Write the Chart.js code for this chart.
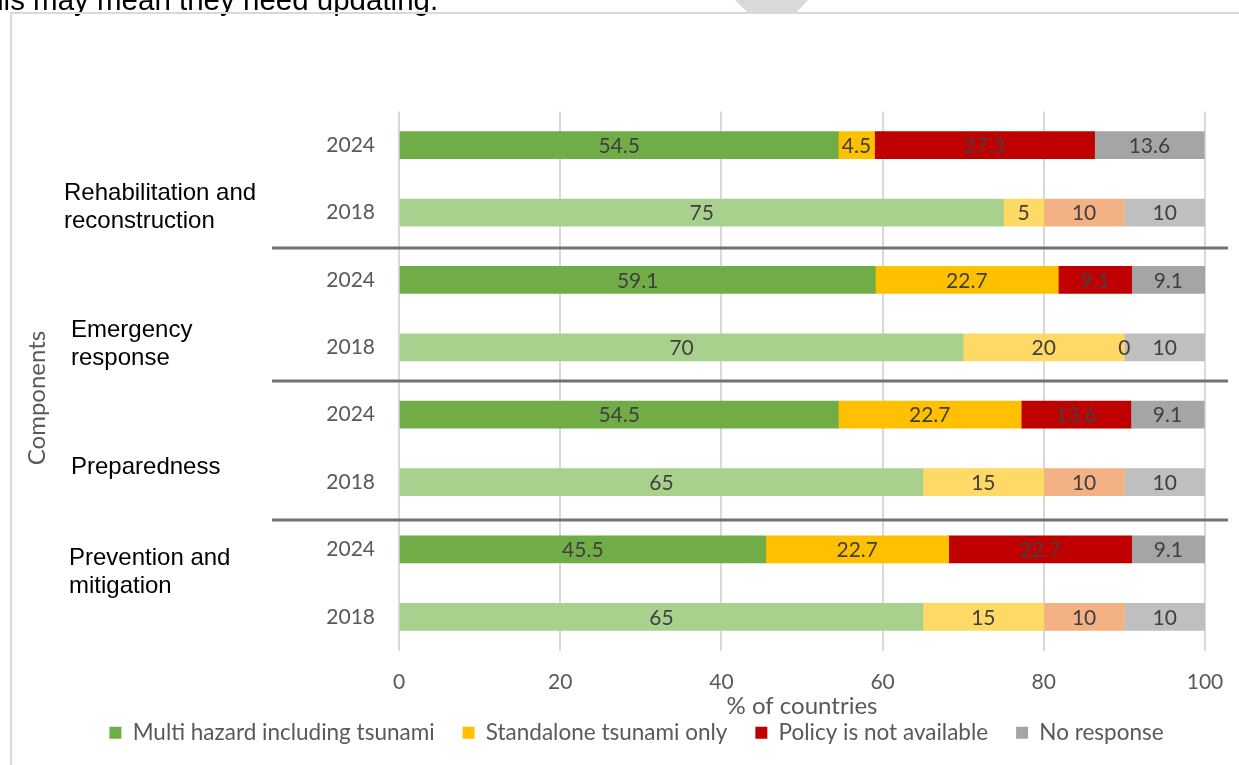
<!DOCTYPE html>
<html>
<head>
<meta charset="utf-8">
<script src="https://cdn.jsdelivr.net/npm/chart.js@4.4.1/dist/chart.umd.min.js"></script>
<style>
  html, body { margin: 0; padding: 0; background: #fff; overflow: hidden; }
  #wrap { width: 1239px; height: 765px; position: relative; }
</style>
</head>
<body>
<div id="wrap"><canvas id="policyChart" width="1239" height="765"></canvas></div>
<script>
// rows run top to bottom, two survey years per component
const years = ['2024', '2018', '2024', '2018', '2024', '2018', '2024', '2018'];
const components = [
  ['Rehabilitation and', 'reconstruction'],
  ['Emergency', 'response'],
  ['Preparedness'],
  ['Prevention and', 'mitigation'],
];
const seriesNames = ['Multi hazard including tsunami', 'Standalone tsunami only', 'Policy is not available', 'No response'];
const multiHazard  = [54.5, 75, 59.1, 70, 54.5, 65, 45.5, 65];
const standalone   = [4.5, 5, 22.7, 20, 22.7, 15, 22.7, 15];
const notAvailable = [27.3, 10, 9.1, 0, 13.6, 10, 22.7, 10];
const noResponse   = [13.6, 10, 9.1, 10, 9.1, 10, 9.1, 10];
const xTicks = [0, 20, 40, 60, 80, 100];

const colors2024 = ['#70AD47', '#FFC000', '#C00000', '#A5A5A5'];
const colors2018 = ['#A9D18E', '#FFD966', '#F4B183', '#BFBFBF'];

const TICK_GREY = '#595959';
const LABEL_FONT = 'Lato, "Open Sans", sans-serif';

const seriesData = [multiHazard, standalone, notAvailable, noResponse];

const datasets = seriesData.map((vals, i) => ({
  label: seriesNames[i],
  data: vals,
  backgroundColor: years.map(y => y === '2024' ? colors2024[i] : colors2018[i]),
  borderWidth: 0,
  barThickness: 27,
}));

// where the group labels sit (left edge x, vertical centre y)
const compLabelPos = [[64, 207], [71, 344], [71, 467], [69, 572]];
// separators between components, in category units
const separatorAt = [1.52, 3.5, 5.56];

const decorPlugin = {
  id: 'decor',
  beforeDraw(chart) {
    const c = chart.ctx;
    c.save();
    c.fillStyle = '#fff';
    c.fillRect(0, 0, chart.width, chart.height);
    // page text cut by the frame
    c.fillStyle = '#000';
    c.font = '29.5px "Liberation Sans", Arial, sans-serif';
    c.textBaseline = 'alphabetic';
    c.textAlign = 'left';
    c.fillText('this may mean they need updating.', -21, 10);
    // grey pointer at the top
    c.fillStyle = '#d9d9d9';
    c.beginPath();
    c.moveTo(735, 0); c.lineTo(808, 0); c.lineTo(796, 13); c.lineTo(748, 13);
    c.closePath(); c.fill();
    // frame
    c.strokeStyle = '#d9d9d9';
    c.lineWidth = 2;
    c.beginPath();
    c.moveTo(11, 765); c.lineTo(11, 13); c.lineTo(1239, 13);
    c.stroke();
    c.restore();
  },
  afterDatasetsDraw(chart) {
    const c = chart.ctx;
    c.save();
    c.font = `21px ${LABEL_FONT}`;
    c.fillStyle = '#404040';
    c.textAlign = 'center';
    c.textBaseline = 'middle';
    chart.data.datasets.forEach((ds, i) => {
      chart.getDatasetMeta(i).data.forEach((bar, j) => {
        const v = ds.data[j];
        c.fillText(String(v), (bar.x + bar.base) / 2, bar.y + 1);
      });
    });
    c.restore();
  },
  afterDraw(chart) {
    const c = chart.ctx;
    const yScale = chart.scales.y;
    c.save();
    c.strokeStyle = '#767171';
    c.lineWidth = 3;
    separatorAt.forEach(v => {
      const y = Math.round(yScale.getPixelForValue(v));
      c.beginPath();
      c.moveTo(272, y); c.lineTo(1228, y);
      c.stroke();
    });

    c.fillStyle = '#000';
    c.font = '24px "Liberation Sans", Arial, sans-serif';
    c.textAlign = 'left';
    c.textBaseline = 'middle';
    components.forEach((lines, k) => {
      const [x, yc] = compLabelPos[k];
      const lh = 28;
      const y0 = yc - (lines.length - 1) * lh / 2;
      lines.forEach((ln, n) => c.fillText(ln, x, y0 + n * lh));
    });

    c.fillStyle = TICK_GREY;
    c.font = `24px ${LABEL_FONT}`;
    c.translate(37, 398);
    c.rotate(-Math.PI / 2);
    c.textAlign = 'center';
    c.fillText('Components', 0, 0);
    c.restore();
  },
};

new Chart(document.getElementById('policyChart'), {
  type: 'bar',
  data: { labels: years, datasets },
  options: {
    indexAxis: 'y',
    responsive: false,
    animation: false,
    devicePixelRatio: 1,
    layout: { padding: { top: 111.5, left: 34, right: 0, bottom: 11 } },
    plugins: {
      legend: {
        position: 'bottom',
        labels: {
          boxWidth: 12,
          boxHeight: 12,
          padding: 28,
          color: TICK_GREY,
          font: { family: LABEL_FONT, size: 22.5 },
          generateLabels: () => seriesNames.map((t, i) => ({
            text: t,
            fillStyle: colors2024[i],
            strokeStyle: colors2024[i],
            lineWidth: 0,
            hidden: false,
            datasetIndex: i,
            fontColor: TICK_GREY,
          })),
        },
      },
      tooltip: { enabled: false },
    },
    scales: {
      x: {
        stacked: true,
        min: 0,
        max: 100,
        afterBuildTicks: s => { s.ticks = xTicks.map(v => ({ value: v })); },
        afterFit: s => { s.paddingRight = 34; s.height = 43; },
        grid: { color: '#d9d9d9', lineWidth: 2, drawTicks: false },
        border: { display: false },
        ticks: { color: TICK_GREY, padding: 19, font: { family: LABEL_FONT, size: 21 } },
        title: {
          display: true,
          text: '% of countries',
          color: TICK_GREY,
          padding: { top: 0, bottom: -27 },
          font: { family: LABEL_FONT, size: 24 },
        },
      },
      y: {
        stacked: true,
        afterFit: s => { s.width = 365; },
        grid: { display: false },
        border: { display: false },
        ticks: { color: TICK_GREY, padding: 16, font: { family: LABEL_FONT, size: 21 } },
      },
    },
  },
  plugins: [decorPlugin],
});
</script>
</body>
</html>
